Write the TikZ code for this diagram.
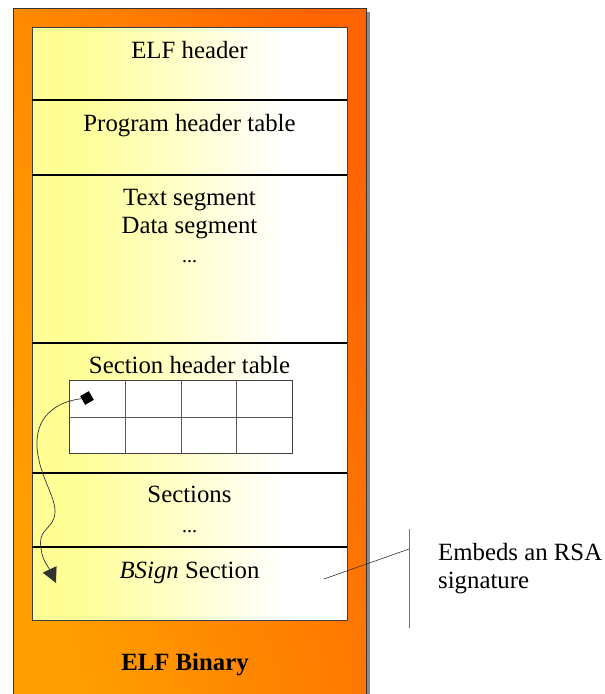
\documentclass[tikz,border=0pt]{standalone}
\usepackage{fontspec}
\setmainfont{Liberation Serif}
\usetikzlibrary{arrows.meta,shapes.geometric}
\definecolor{yel}{RGB}{255,255,150}
\definecolor{orA}{RGB}{255,160,0}
\definecolor{orB}{RGB}{255,100,0}
\pgfdeclarehorizontalshading{innershade}{100bp}{color(0bp)=(yel); color(32bp)=(yel); color(65bp)=(white); color(100bp)=(white)}
\begin{document}
\begin{tikzpicture}[x=1pt,y=-1pt,
  lbl/.style={font=\fontsize{24.8}{28}\selectfont, inner sep=0pt, anchor=base},
  dots/.style={font=\fontsize{20}{24}\selectfont, inner sep=0pt, anchor=base},
  divider/.style={line width=1.4pt, black},
  gridline/.style={black!65, line width=0.8pt}]
\useasboundingbox (0,0) rectangle (605,694);
% shadow and outer orange box
\fill[black!45] (366,12) rectangle (370,700);
\shadedraw[bottom color=orA, top color=orB, shading angle=-73, draw=black!80, line width=0.8pt] (13,8) rectangle (366,700);
% inner box
\shadedraw[shading=innershade, draw=black!75, line width=0.8pt] (32,27) rectangle (347,620);
\foreach \yy in {100,175,343,473,547} \draw[divider] (32,\yy) -- (347,\yy);
% section header table grid
\draw[fill=white, draw=black!75, line width=0.8pt] (69,380) rectangle (292,453);
\draw[gridline] (69,417) -- (292,417);
\foreach \xx in {125,181,236} \draw[gridline] (\xx,380) -- (\xx,453);
% labels
\node[lbl] (elfh) at (189.5,58) {ELF header};
\node[lbl] (pht) at (189.5,131) {Program header table};
\node[lbl] (txt) at (189.5,205) {Text segment};
\node[lbl] (dat) at (189.5,233) {Data segment};
\node[dots] (dots1) at (189.5,262) {...};
\node[lbl] (sht) at (189.5,373) {Section header table};
\node[lbl] (sec) at (189.5,502) {Sections};
\node[dots] (dots2) at (189.5,532) {...};
\node[lbl] (bsign) at (189.5,578) {\textit{BSign} Section};
\node[lbl, font=\fontsize{24.8}{28}\selectfont\bfseries] (bin) at (185,670) {ELF Binary};
\node[lbl, anchor=base west] (emb1) at (438,560) {Embeds an RSA};
\node[lbl, anchor=base west] (emb2) at (438,588) {signature};
% pointer curve
\node[rectangle, fill=black, minimum size=10pt, inner sep=0pt, rotate=30] (src) at (87,398) {};
\coordinate (dst) at (56,583);
\draw[black!80, line width=0.7pt, -{Triangle[length=15pt,width=15pt]}]
  (src) .. controls (62,401) and (36,412) .. (37,445)
        .. controls (38,478) and (60,500) .. (54,518)
        .. controls (50,530) and (38,530) .. (41,548)
        .. controls (42,560) and (49,568) .. (dst);
% callout
\coordinate (cA) at (324,579);
\coordinate (cB) at (409,549);
\coordinate (vT) at (409,529);
\coordinate (vB) at (409,628);
\draw[black!55, line width=1pt] (vT) -- (vB);
\draw[black!80, line width=0.6pt] (cA) -- (cB);
\end{tikzpicture}
\end{document}
